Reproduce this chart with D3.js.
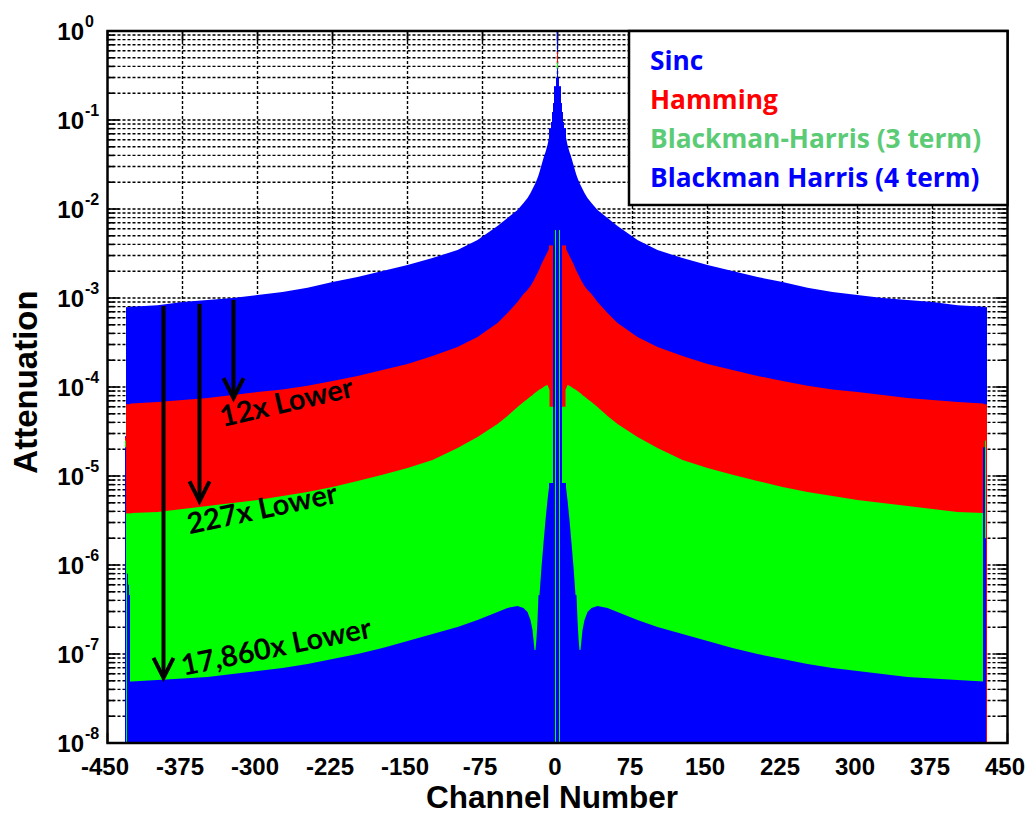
<!DOCTYPE html>
<html>
<head>
<meta charset="utf-8">
<script src="https://cdn.jsdelivr.net/npm/d3@7"></script>
<style>
  body { margin: 0; background: #fff; }
  svg { display: block; }
</style>
</head>
<body>
<svg id="chart" width="1030" height="815"></svg>
<script>
// ---- data -------------------------------------------------------------
// Channel offsets at which the side-lobe envelopes are sampled
const channels = [
  -426,-400,-375,-350,-325,-300,-275,-250,-225,-200,-175,-150,-125,-100,-80,-60,-50,-40,-34,-30,-27,-25,-24,-23,-22,-21,-20,-19,-18,-16,-14,-12,-10,-8,
  8,10,12,14,16,18,19,20,21,22,23,24,25,27,30,34,40,50,60,80,100,125,150,175,200,225,250,275,300,325,350,375,400,426
];
const sinc = [
  8.0e-4,8.3e-4,9.0e-4,9.5e-4,1.0e-3,1.08e-3,1.17e-3,1.30e-3,1.51e-3,1.72e-3,2.01e-3,2.35e-3,2.81e-3,3.46e-3,4.49e-3,6.44e-3,7.92e-3,9.74e-3,1.17e-2,1.33e-2,1.51e-2,1.68e-2,1.77e-2,1.86e-2,1.96e-2,2.09e-2,2.23e-2,2.40e-2,2.60e-2,3.12e-2,3.74e-2,4.37e-2,5.24e-2,6.78e-2,
  6.78e-2,5.24e-2,4.37e-2,3.74e-2,3.12e-2,2.60e-2,2.40e-2,2.23e-2,2.09e-2,1.96e-2,1.86e-2,1.77e-2,1.68e-2,1.51e-2,1.33e-2,1.17e-2,9.74e-3,7.92e-3,6.44e-3,4.49e-3,3.46e-3,2.81e-3,2.35e-3,2.01e-3,1.72e-3,1.51e-3,1.30e-3,1.17e-3,1.08e-3,1.0e-3,9.5e-4,9.0e-4,8.3e-4,8.0e-4
];
const hamming = [
  6.53e-5,6.79e-5,7.14e-5,7.52e-5,8.13e-5,8.79e-5,9.37e-5,1.03e-4,1.17e-4,1.33e-4,1.55e-4,1.81e-4,2.23e-4,2.81e-4,3.65e-4,5.24e-4,6.79e-4,9.02e-4,1.11e-3,1.23e-3,1.36e-3,1.48e-3,1.55e-3,1.63e-3,1.72e-3,1.81e-3,1.91e-3,2.01e-3,2.12e-3,2.41e-3,2.67e-3,2.96e-3,3.29e-3,3.65e-3,
  3.65e-3,3.29e-3,2.96e-3,2.67e-3,2.41e-3,2.12e-3,2.01e-3,1.91e-3,1.81e-3,1.72e-3,1.63e-3,1.55e-3,1.48e-3,1.36e-3,1.23e-3,1.11e-3,9.02e-4,6.79e-4,5.24e-4,3.65e-4,2.81e-4,2.23e-4,1.81e-4,1.55e-4,1.33e-4,1.17e-4,1.03e-4,9.37e-5,8.79e-5,8.13e-5,7.52e-5,7.14e-5,6.79e-5,6.53e-5
];
const bh3 = [
  3.84e-6,3.94e-6,4.26e-6,4.60e-6,4.97e-6,5.37e-6,5.96e-6,6.61e-6,7.52e-6,8.79e-6,1.03e-5,1.23e-5,1.51e-5,2.06e-5,2.74e-5,3.84e-5,4.72e-5,5.96e-5,6.79e-5,7.33e-5,7.82e-5,8.1e-5,8.34e-5,8.5e-5,8.68e-5,8.85e-5,9.02e-5,9.2e-5,9.37e-5,9.62e-5,1.0e-4,1.03e-4,1.05e-4,9.25e-5,
  9.25e-5,1.05e-4,1.03e-4,1.0e-4,9.62e-5,9.37e-5,9.2e-5,9.02e-5,8.85e-5,8.68e-5,8.5e-5,8.34e-5,8.1e-5,7.82e-5,7.33e-5,6.79e-5,5.96e-5,4.72e-5,3.84e-5,2.74e-5,2.06e-5,1.51e-5,1.23e-5,1.03e-5,8.79e-6,7.52e-6,6.61e-6,5.96e-6,5.37e-6,4.97e-6,4.60e-6,4.26e-6,3.94e-6,3.84e-6
];
const bh4 = [
  4.91e-8,5.10e-8,5.30e-8,5.51e-8,5.96e-8,6.44e-8,6.96e-8,7.72e-8,8.79e-8,1.0e-7,1.17e-7,1.40e-7,1.68e-7,2.01e-7,2.41e-7,2.96e-7,3.29e-7,3.46e-7,3.29e-7,2.96e-7,2.41e-7,1.86e-7,1.44e-7,1.11e-7,1.11e-7,1.51e-7,2.41e-7,4.60e-7,4.60e-7,9.5e-7,1.77e-6,3.20e-6,5.37e-6,8.34e-6,
  8.34e-6,5.37e-6,3.20e-6,1.77e-6,9.5e-7,4.60e-7,4.60e-7,2.41e-7,1.51e-7,1.11e-7,1.11e-7,1.44e-7,1.86e-7,2.41e-7,2.96e-7,3.29e-7,3.46e-7,3.29e-7,2.96e-7,2.41e-7,2.01e-7,1.68e-7,1.40e-7,1.17e-7,1.0e-7,8.79e-8,7.72e-8,6.96e-8,6.44e-8,5.96e-8,5.51e-8,5.30e-8,5.10e-8,4.91e-8
];

// Per-channel values around the main lobe (1e-8 = at or below the axis floor)
const centerChannels = [-7,-6,-5,-4,-3,-2,-1,0,1,2,3,4,5,6,7];
const sincCenter    = [8.1e-2,9.5e-2,0.123,0.155,0.24,0.24,0.24,1.0,0.24,0.24,0.24,0.155,0.123,9.5e-2,8.1e-2];
const hammingCenter = [3.9e-3,3.9e-3,3.9e-3,3.9e-3,3.9e-3,1e-8,1e-8,0.58,1e-8,1e-8,3.9e-3,3.9e-3,3.9e-3,3.9e-3,3.9e-3];
const bh3Center     = [6.0e-5,6.0e-5,6.0e-5,1e-8,1e-8,5.8e-3,1e-8,0.44,1e-8,5.8e-3,1e-8,1e-8,6.0e-5,6.0e-5,6.0e-5];
const bh4Center     = [8.34e-6,8.34e-6,8.34e-6,0.15,0.15,1e-8,0.3,0.38,0.3,1e-8,0.15,0.15,8.34e-6,8.34e-6,8.34e-6];

// Per-channel values at the band edges
const leftEdgeChannels = [-432,-431,-430,-429,-428,-427];
const sincLeftEdge     = [2.8e-5,7.9e-4,7.9e-4,7.9e-4,7.9e-4,8.0e-4];
const hammingLeftEdge  = [2.7e-5,6.4e-5,6.4e-5,6.4e-5,6.4e-5,6.5e-5];
const bh3LeftEdge      = [2.5e-5,3.8e-6,3.8e-6,3.8e-6,3.8e-6,3.8e-6];
const bh4LeftEdge      = [2.1e-5,1e-8,8.0e-7,6.0e-7,4.6e-7,4.9e-8];
const rightEdgeChannels = [427,428,429];
const sincRightEdge     = [7.9e-4,7.9e-4,7.9e-4];
const hammingRightEdge  = [6.4e-5,6.4e-5,6.4e-5];
const bh3RightEdge      = [1e-8,2.5e-5,1e-8];
const bh4RightEdge      = [2.1e-5,2.0e-6,1e-8];

const seriesNames  = ["Sinc", "Hamming", "Blackman-Harris (3 term)", "Blackman Harris (4 term)"];
const seriesFill   = ["#0000ff", "#ff0000", "#00ff00", "#0000ff"];
const legendColors = ["#0000ff", "#ff0000", "#5ccb76", "#0000ff"];

const xTicks = [-450,-375,-300,-225,-150,-75,0,75,150,225,300,375,450];
const yDecades = [-8,-7,-6,-5,-4,-3,-2,-1,0];

// Reduction annotations: channel, from level, to level, label
const noteChannels = [-324, -358, -394];
const noteFrom     = [9.5e-4, 8.56e-4, 8.13e-4];
const noteTo       = [7.5e-5, 5.2e-6, 5.4e-8];
const noteLabels   = ["12x Lower", "227x Lower", "17,860x Lower"];

// ---- layout -----------------------------------------------------------
const svg = d3.select("#chart");
const L = 107.5, R = 1007.5, T = 31, B = 743;   // one pixel per channel
const x = d3.scaleLinear().domain([-450, 450]).range([L, R]);
const y = d3.scaleLog().domain([1e-8, 1]).range([B, T]);

// grid values: every 1..9 x 10^e
const gridVals = [];
yDecades.forEach(e => {
  if (e === 0) { gridVals.push(1); return; }
  for (let m = 1; m <= 9; m++) gridVals.push(m * Math.pow(10, e));
});

const grid = svg.append("g").attr("stroke", "#000").attr("stroke-width", 1.4)
  .attr("stroke-dasharray", "3,2").attr("fill", "none");
grid.selectAll("line.h").data(gridVals.filter(v => v > 1e-8 && v < 1)).join("line")
  .attr("class", "h")
  .attr("x1", L).attr("x2", R).attr("y1", d => y(d)).attr("y2", d => y(d));
grid.selectAll("line.v").data(xTicks.filter(t => t > -450 && t < 450)).join("line")
  .attr("class", "v")
  .attr("x1", d => x(d)).attr("x2", d => x(d)).attr("y1", T).attr("y2", B);

// inward tick marks on all four sides
const ticks = svg.append("g").attr("stroke", "#000").attr("stroke-width", 1.6);
gridVals.forEach(v => {
  const major = Math.abs(Math.log10(v) - Math.round(Math.log10(v))) < 1e-9;
  const len = major ? 12 : 7;
  ticks.append("line").attr("x1", L).attr("x2", L + len).attr("y1", y(v)).attr("y2", y(v));
  ticks.append("line").attr("x1", R - len).attr("x2", R).attr("y1", y(v)).attr("y2", y(v));
});
xTicks.forEach(t => {
  ticks.append("line").attr("x1", x(t)).attr("x2", x(t)).attr("y1", T).attr("y2", T + 10);
  ticks.append("line").attr("x1", x(t)).attr("x2", x(t)).attr("y1", B - 10).attr("y2", B);
});

// ---- response envelopes ----------------------------------------------
const floor = 1e-8;
const area = d3.area()
  .x(d => x(d.k))
  .y0(y(floor))
  .y1(d => y(Math.max(d.v, floor)));

// One bar per channel. Where a bar group meets an envelope end, its outermost bar
// reaches half a channel past that end so the two shapes overlap without a seam.
function channelBars(g, ks, vals, loBound, hiBound) {
  const data = ks.map((k, j) => ({
    a: (j === 0 && loBound !== null) ? loBound - 0.5 : k - 0.5,
    b: (j === ks.length - 1 && hiBound !== null) ? hiBound + 0.5 : k + 0.5,
    v: Math.max(vals[j], floor)
  }));
  g.append("g").selectAll("rect").data(data).join("rect")
    .attr("x", d => x(d.a))
    .attr("width", d => x(d.b) - x(d.a))
    .attr("y", d => y(d.v))
    .attr("height", d => y(floor) - y(d.v));
}

const envelopes  = [sinc, hamming, bh3, bh4];
const centers    = [sincCenter, hammingCenter, bh3Center, bh4Center];
const leftEdges  = [sincLeftEdge, hammingLeftEdge, bh3LeftEdge, bh4LeftEdge];
const rightEdges = [sincRightEdge, hammingRightEdge, bh3RightEdge, bh4RightEdge];
const inner = channels.filter(k => k > 0)[0];            // envelope stops at +/- inner
const outerL = channels[0], outerR = channels[channels.length - 1];

envelopes.forEach((vals, i) => {
  const g = svg.append("g").attr("fill", seriesFill[i]);
  const pts = channels.map((k, j) => ({ k, v: vals[j] }));
  g.append("path").attr("d", area(pts.filter(p => p.k < 0)));
  g.append("path").attr("d", area(pts.filter(p => p.k > 0)));
  channelBars(g, centerChannels, centers[i], -inner, inner);
  channelBars(g, leftEdgeChannels, leftEdges[i], null, outerL);
  channelBars(g, rightEdgeChannels, rightEdges[i], outerR, null);
});

// ---- frame ------------------------------------------------------------
svg.append("rect").attr("x", L).attr("y", T).attr("width", R - L).attr("height", B - T)
  .attr("fill", "none").attr("stroke", "#000").attr("stroke-width", 2.5);

// ---- axes labels ------------------------------------------------------
const tickFont = "'Liberation Sans', Arial, sans-serif";
const xAxis = d3.axisBottom(x).tickValues(xTicks).tickSize(0).tickPadding(0)
  .tickFormat(d => String(d));
const xg = svg.append("g").attr("transform", `translate(0,${B})`).call(xAxis);
xg.select(".domain").remove();
xg.selectAll("text")
  .attr("font-family", tickFont).attr("font-weight", "bold").attr("font-size", 24)
  .attr("fill", "#000").attr("dy", null).attr("y", 32).attr("dx", -3);

const yl = svg.append("g").attr("font-family", tickFont).attr("font-weight", "bold").attr("fill", "#000");
yDecades.forEach(e => {
  const yy = y(Math.pow(10, e));
  yl.append("text").attr("x", 84).attr("y", yy + 9).attr("text-anchor", "end")
    .attr("font-size", 24).text("10");
  yl.append("text").attr("x", 85).attr("y", yy - 4).attr("text-anchor", "start")
    .attr("font-size", 16).text(String(e));
});

svg.append("text").attr("x", 552).attr("y", 808).attr("text-anchor", "middle")
  .attr("font-family", tickFont).attr("font-weight", "bold").attr("font-size", 31.5)
  .text("Channel Number");
svg.append("text").attr("transform", "translate(37,382) rotate(-90)").attr("text-anchor", "middle")
  .attr("font-family", tickFont).attr("font-weight", "bold").attr("font-size", 33)
  .text("Attenuation");

// ---- legend -----------------------------------------------------------
const lg = svg.append("g");
lg.append("rect").attr("x", 629).attr("y", T).attr("width", R - 629).attr("height", 174)
  .attr("fill", "#fff").attr("stroke", "#000").attr("stroke-width", 2.5);
seriesNames.forEach((name, i) => {
  lg.append("text").attr("x", 650).attr("y", 70 + i * 39)
    .attr("font-family", "'Open Sans', Lato, sans-serif").attr("font-weight", "bold")
    .attr("font-size", 26.3).attr("fill", legendColors[i]).text(name);
});

// ---- annotations ------------------------------------------------------
const notes = svg.append("g");
const labelOffset = [[-11, 29, -13], [-10, 33, -12], [20, -2, -11.5]];
noteChannels.forEach((k, i) => {
  const xx = x(k), y1 = y(noteFrom[i]), y2 = y(noteTo[i]);
  notes.append("line").attr("x1", xx).attr("x2", xx).attr("y1", y1).attr("y2", y2 - 2)
    .attr("stroke", "#000").attr("stroke-width", 4);
  notes.append("polyline")
    .attr("points", `${xx - 10},${y2 - 20} ${xx},${y2} ${xx + 10},${y2 - 20}`)
    .attr("fill", "none").attr("stroke", "#000").attr("stroke-width", 4)
    .attr("stroke-linejoin", "miter");
  const [dx, dy, ang] = labelOffset[i];
  notes.append("text")
    .attr("transform", `translate(${xx + dx},${y2 + dy}) rotate(${ang})`)
    .attr("font-family", "Lato, 'Open Sans', sans-serif").attr("font-weight", "bold")
    .attr("font-size", 29).attr("fill", "#000").text(noteLabels[i]);
});
</script>
</body>
</html>
